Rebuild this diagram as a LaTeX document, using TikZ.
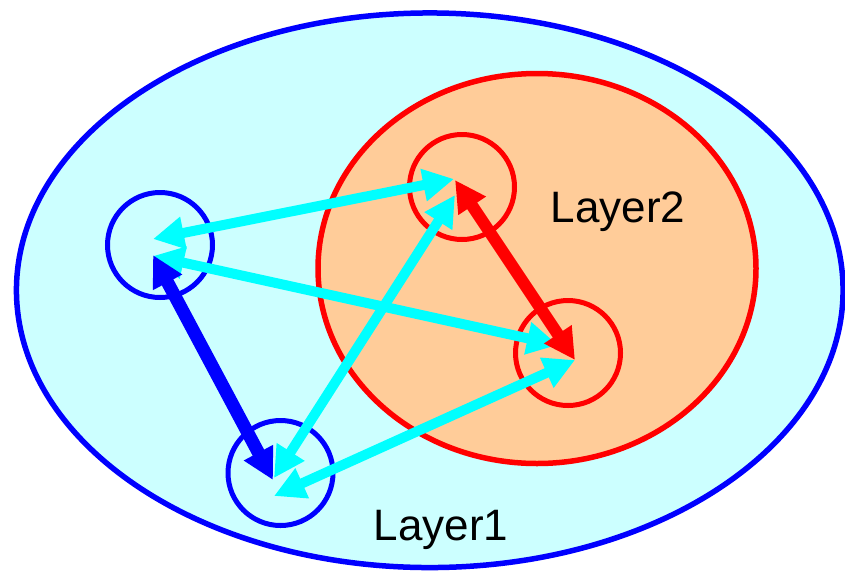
\documentclass[tikz,border=0pt]{standalone}
\usepackage{fontspec}
\setmainfont{Liberation Sans}
\usetikzlibrary{arrows.meta}
\definecolor{outerfill}{HTML}{CCFFFF}
\definecolor{innerfill}{HTML}{FFCC99}
\definecolor{pureblue}{HTML}{0000FF}
\definecolor{purered}{HTML}{FF0000}
\definecolor{purecyan}{HTML}{00FFFF}
\tikzset{
  layerA/.style={draw=pureblue, fill=outerfill, line width=5.5pt},
  layerB/.style={draw=purered, fill=innerfill, line width=5.5pt},
  bluering/.style={circle, draw=pureblue, line width=5pt, minimum size=105pt, inner sep=0pt},
  redring/.style={circle, draw=purered, line width=5pt, minimum size=105pt, inner sep=0pt},
  bigarrow/.style={line width=#1, {Triangle[length=31pt,width=31pt]}-{Triangle[length=31pt,width=31pt]}},
  cyanarrow/.style={bigarrow=10pt, draw=purecyan, fill=purecyan},
  bluearrow/.style={bigarrow=13pt, draw=pureblue, fill=pureblue},
  redarrow/.style={bigarrow=12pt, draw=purered, fill=purered},
  label/.style={font=\fontsize{44}{50}\selectfont, inner sep=0pt, anchor=base}
}
\begin{document}
\begin{tikzpicture}[x=1pt,y=-1pt]
\useasboundingbox (0,0) rectangle (845,571);
\draw[layerA] (429.75,290.25) ellipse [x radius=413.3, y radius=277.3];
\draw[layerB] (537,268.5) ellipse [x radius=219, y radius=195];
\node[bluering] (A) at (160,245) {};
\node[bluering] (B) at (280.5,473) {};
\node[redring] (C) at (462,187) {};
\node[redring] (D) at (568,353) {};
\coordinate (a1) at (153,239);
\coordinate (a2) at (153,256);
\coordinate (a3) at (153,255);
\coordinate (b1) at (273,480);
\coordinate (b2) at (274,478);
\coordinate (b3) at (274,496);
\coordinate (c1) at (454,179);
\coordinate (c2) at (455,180);
\coordinate (c3) at (455,195);
\coordinate (d1) at (558,345);
\coordinate (d2) at (575,360);
\coordinate (d3) at (575,360);
\draw[cyanarrow] (a1) -- (c1);
\draw[cyanarrow] (a2) -- (d1);
\draw[bluearrow] (a3) -- (b1);
\draw[redarrow] (c2) -- (d2);
\draw[cyanarrow] (c3) -- (b2);
\draw[cyanarrow] (d3) -- (b3);
\node[label] (L2) at (618,222) {Layer2};
\node[label] (L1) at (441,540) {Layer1};
\end{tikzpicture}
\end{document}
